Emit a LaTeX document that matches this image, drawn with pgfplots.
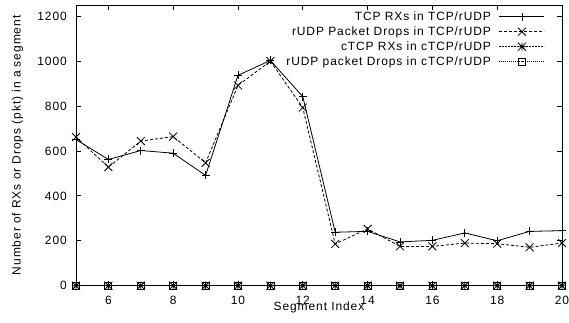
\documentclass[border=0pt]{standalone}
\usepackage{pgfplots}
\pgfplotsset{compat=1.18}
\usepackage{fontspec}
\setmainfont[LetterSpace=7.5]{Liberation Sans}
\pgfdeclareplotmark{gpstar}{%
 \pgfpathmoveto{\pgfqpoint{-\pgfplotmarksize}{0pt}}\pgfpathlineto{\pgfqpoint{\pgfplotmarksize}{0pt}}%
 \pgfpathmoveto{\pgfqpoint{0pt}{-\pgfplotmarksize}}\pgfpathlineto{\pgfqpoint{0pt}{\pgfplotmarksize}}%
 \pgfpathmoveto{\pgfqpoint{-\pgfplotmarksize}{-\pgfplotmarksize}}\pgfpathlineto{\pgfqpoint{\pgfplotmarksize}{\pgfplotmarksize}}%
 \pgfpathmoveto{\pgfqpoint{-\pgfplotmarksize}{\pgfplotmarksize}}\pgfpathlineto{\pgfqpoint{\pgfplotmarksize}{-\pgfplotmarksize}}%
 \pgfusepathqstroke}
\begin{document}
\fontsize{12bp}{14bp}\selectfont
\begin{tikzpicture}
\begin{axis}[
 at={(0,0)}, anchor=south west,
 scale only axis, width=486bp, height=280.7bp,
 xmin=5, xmax=20, ymin=0, ymax=1250,
 xtick={6,8,...,20}, ytick={0,200,...,1200},
 tick align=inside, major tick length=5bp,
 axis line style={line width=0.8bp},
 tick style={line width=0.8bp, black},
 /pgf/number format/assume math mode=true,
 /pgf/number format/1000 sep={},
 yticklabel style={xshift=-5bp},
 xticklabel style={yshift=-6bp},
 xlabel={Segment Index},
 ylabel={Number of RXs or Drops (pkt) in a segment},
 xlabel style={at={(axis description cs:0.5,-0.0891)}, anchor=base},
 ylabel style={at={(axis description cs:-0.1138,0.5)}, anchor=base},
 clip=false,
 legend plot pos=right,
 legend cell align=right,
 legend image code/.code={\draw[mark repeat=2,mark phase=2,#1] plot coordinates {(0bp,0bp) (22.5bp,0bp) (45bp,0bp)};},
 legend style={draw=none, fill=none, at={(axis description cs:1,1)}, anchor=north east,
   xshift=-17bp, yshift=-6bp, inner xsep=0pt, inner ysep=0pt,
   nodes={inner sep=0pt, text height=9bp, text depth=2bp},
   row sep=4bp, column sep=8bp},
]
\addplot[black, line width=0.8bp, mark=+, mark size=4bp, mark options={solid}] coordinates {
 (5,651)(6,562)(7,602)(8,590)(9,491)(10,937)(11,1003)(12,842)(13,238)(14,242)(15,195)(16,202)(17,235)(18,200)(19,242)(20,245)};
\addlegendentry{TCP RXs in TCP/rUDP}
\addplot[black, line width=0.8bp, dash pattern=on 3bp off 2bp, mark=x, mark size=5.6bp, mark options={solid}] coordinates {
 (5,662)(6,528)(7,644)(8,664)(9,547)(10,892)(11,1000)(12,793)(13,186)(14,253)(15,175)(16,175)(17,190)(18,187)(19,171)(20,190)};
\addlegendentry{rUDP Packet Drops in TCP/rUDP}
\addplot[black, line width=0.8bp, dash pattern=on 1.5bp off 1.5bp, mark=gpstar, mark size=4bp, mark options={solid}] coordinates {
 (5,0)(6,0)(7,0)(8,0)(9,0)(10,0)(11,0)(12,0)(13,0)(14,0)(15,0)(16,0)(17,0)(18,0)(19,0)(20,0)};
\addlegendentry{cTCP RXs in cTCP/rUDP}
\addplot[black, line width=0.8bp, dash pattern=on 1bp off 1bp, mark=square, mark size=3.5bp, mark options={solid}] coordinates {
 (5,0)(6,0)(7,0)(8,0)(9,0)(10,0)(11,0)(12,0)(13,0)(14,0)(15,0)(16,0)(17,0)(18,0)(19,0)(20,0)};
\addlegendentry{rUDP packet Drops in cTCP/rUDP}
\end{axis}
\pgfresetboundingbox
\path[use as bounding box] (-76bp,-37.3bp) rectangle (493bp,285.7bp);
\end{tikzpicture}
\end{document}
